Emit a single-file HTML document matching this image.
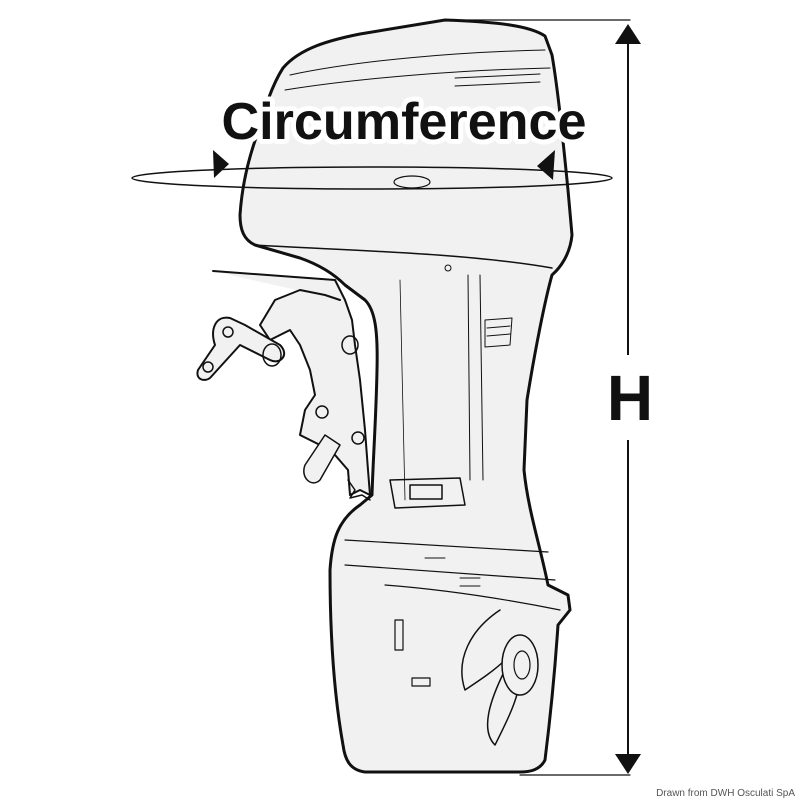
<!DOCTYPE html>
<html><head><style>
html,body{margin:0;padding:0;background:#fff;}
svg{display:block;}
</style></head><body>
<svg width="800" height="800" viewBox="0 0 800 800" xmlns="http://www.w3.org/2000/svg">
<rect width="800" height="800" fill="#fff"/>
<g stroke="#111" fill="none" stroke-linecap="round" stroke-linejoin="round">
<path d="M283,68 C300,48 330,40 360,34 L445,20 C500,22 530,26 545,36 L552,55 C558,90 563,140 568,190 L572,235 C570,255 560,268 552,275 C545,300 535,350 527,400 L524,470 C528,510 540,545 548,585 L568,595 L570,610 L558,625 C555,670 550,720 545,760 C540,770 530,772 520,772 L365,772 C350,770 345,760 343,745 C335,700 330,640 330,570 C332,540 338,520 360,505 L372,495 C373,460 376,420 377,370 C378,330 375,310 365,300 L345,285 C335,275 320,265 300,258 L255,245 C244,240 240,230 240,215 C242,185 248,160 257,135 C264,110 272,85 283,68 Z" fill="#f1f1f1" stroke-width="3"/>
<path d="M255,245 C330,250 460,252 552,268" stroke-width="1.5"/>
<path d="M290,75 C360,60 460,52 545,50" stroke-width="1"/>
<path d="M285,90 C360,78 460,70 550,68" stroke-width="1"/>
<path d="M455,78 L540,74 M455,86 L540,82" stroke-width="1"/>
<ellipse cx="412" cy="182" rx="18" ry="6" stroke-width="1.2"/>
<circle cx="448" cy="268" r="3" stroke-width="1"/>
<path d="M468,275 L470,480 M480,275 L483,480" stroke-width="1"/>
<path d="M485,320 L512,318 L510,345 L485,347 Z M487,328 L510,326 M487,336 L510,334" stroke-width="1"/>
<path d="M400,280 L405,500" stroke-width="0.8"/>
<path d="M390,480 L460,478 L465,505 L395,508 Z" stroke-width="1.5"/>
<rect x="410" y="485" width="32" height="14" stroke-width="1.5"/>
<path d="M345,540 C420,545 490,548 548,552" stroke-width="1.2"/>
<path d="M345,565 C420,570 490,575 555,580" stroke-width="1.2"/>
<path d="M385,585 C450,590 510,600 560,610" stroke-width="1.2"/>
<path d="M425,558 L445,558 M460,578 L480,578 M460,586 L480,586" stroke-width="1"/>
<rect x="395" y="620" width="8" height="30" stroke-width="1.2"/>
<rect x="412" y="678" width="18" height="8" stroke-width="1.2"/>
<path d="M500,610 C470,630 455,660 465,690 C480,680 495,670 505,660" fill="#f1f1f1" stroke-width="1.5"/>
<path d="M505,670 C490,700 480,730 495,745 C505,725 515,705 518,690" fill="#f1f1f1" stroke-width="1.5"/>
<ellipse cx="520" cy="665" rx="18" ry="30" fill="#f1f1f1" stroke-width="1.5"/>
<ellipse cx="522" cy="665" rx="8" ry="14" stroke-width="1.2"/>
<path d="M213,271 L335,280 L345,300 L352,320 L355,345 L360,380 L365,430 L368,470 L370,495 L360,490 L350,495 L348,470 L335,455 L320,445 L300,435 L305,410 L315,395 L310,370 L300,345 L290,330 L270,340 L260,325 L275,300 L300,290 L325,295 L340,300" fill="#f1f1f1" stroke-width="2"/>
<path d="M230,318 C215,315 210,330 215,345 L198,370 C195,380 205,382 210,378 L240,345 L270,360 C280,365 290,355 280,345 L245,325 Z" fill="#f1f1f1" stroke-width="2"/>
<circle cx="228" cy="332" r="5" stroke-width="1.5"/>
<circle cx="208" cy="367" r="5" stroke-width="1.5"/>
<ellipse cx="272" cy="355" rx="9" ry="11" stroke-width="1.5"/>
<ellipse cx="350" cy="345" rx="8" ry="9" stroke-width="1.5"/>
<circle cx="322" cy="412" r="6" stroke-width="1.5"/>
<circle cx="358" cy="438" r="6" stroke-width="1.5"/>
<path d="M305,465 L325,435 L340,445 L320,480 C312,488 300,478 305,465 Z" fill="#f1f1f1" stroke-width="1.5"/>
<path d="M348,480 L355,490 L350,498 L362,495 L370,500" stroke-width="1.5"/>
<ellipse cx="372" cy="178" rx="240" ry="11" stroke-width="1.5"/>
<path d="M445,20 L630,20 M520,775 L630,775" stroke-width="1.2"/>
<path d="M628,40 L628,760" stroke-width="2"/>
</g>
<path d="M213,150 L229,164 L214,178 Z" fill="#111"/>
<path d="M555,150 L537,166 L553,180 Z" fill="#111"/>
<polygon points="628,24 615,44 641,44" fill="#111"/>
<polygon points="628,774 615,754 641,754" fill="#111"/>
<rect x="600" y="355" width="60" height="85" fill="#fff"/>
<text x="404" y="139" text-anchor="middle" font-family="Liberation Sans, sans-serif" font-weight="bold" font-size="52" fill="#111" stroke="#fff" stroke-width="10" paint-order="stroke" stroke-linejoin="round" textLength="365" lengthAdjust="spacingAndGlyphs">Circumference</text>
<text x="630" y="420" text-anchor="middle" font-family="Liberation Sans, sans-serif" font-weight="bold" font-size="64" fill="#111">H</text>
<text x="795" y="796" text-anchor="end" font-family="Liberation Sans, sans-serif" font-size="10" fill="#555">Drawn from DWH Osculati SpA</text>
</svg>
</body></html>
